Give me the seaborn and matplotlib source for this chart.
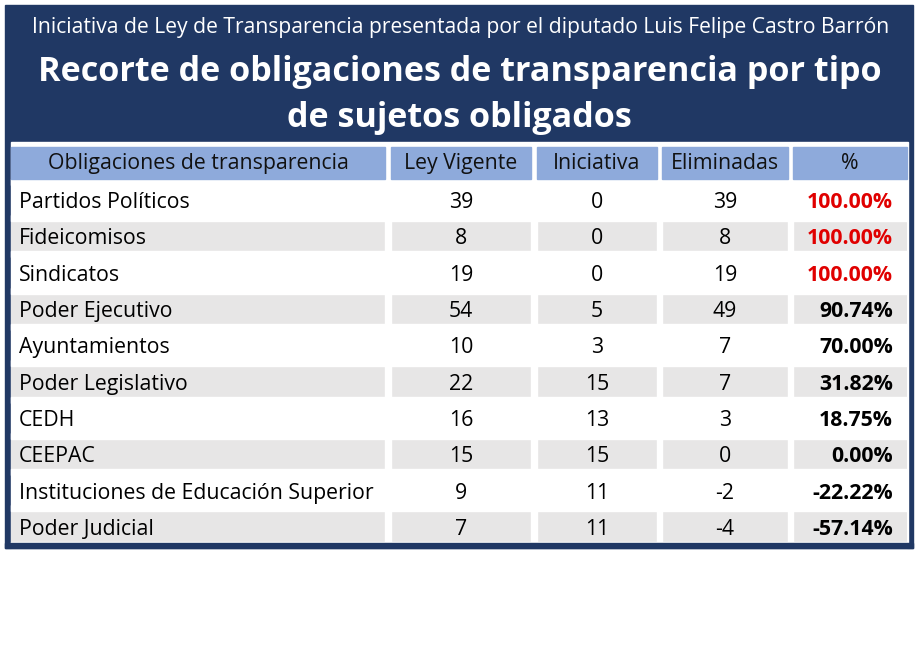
import numpy as np
import seaborn as sns
import matplotlib.pyplot as plt
from matplotlib.colors import ListedColormap
from matplotlib.patches import Rectangle

sns.set_theme(style="white")
plt.rcParams['font.family'] = ['Open Sans', 'DejaVu Sans']

# table data
subtitle = "Iniciativa de Ley de Transparencia presentada por el diputado Luis Felipe Castro Barrón"
title_lines = ["Recorte de obligaciones de transparencia por tipo", "de sujetos obligados"]
headers = ["Obligaciones de transparencia", "Ley Vigente", "Iniciativa", "Eliminadas", "%"]
sujetos = ["Partidos Políticos", "Fideicomisos", "Sindicatos", "Poder Ejecutivo", "Ayuntamientos",
           "Poder Legislativo", "CEDH", "CEEPAC", "Instituciones de Educación Superior", "Poder Judicial"]
ley_vigente = [39, 8, 19, 54, 10, 22, 16, 15, 9, 7]
iniciativa = [0, 0, 0, 5, 3, 15, 13, 15, 11, 11]
eliminadas = [39, 8, 19, 49, 7, 7, 3, 0, -2, -4]
porcentaje = [100.00, 100.00, 100.00, 90.74, 70.00, 31.82, 18.75, 0.00, -22.22, -57.14]

navy = "#203864"
head_blue = "#8eaadb"
gray = "#e7e6e6"
red = "#e00000"

W, H = 919, 659
fig = plt.figure(figsize=(W / 100, H / 100), dpi=100)

# background frame (pixel coordinates)
bg = fig.add_axes([0, 0, 1, 1], zorder=0)
bg.set_xlim(0, W)
bg.set_ylim(H, 0)
bg.axis("off")
bg.add_patch(Rectangle((5, 5), 908, 543, color=navy))
bg.add_patch(Rectangle((11, 142), 897, 401, color="white"))

# column edges and row layout
cols = [(11, 385), (391, 531), (537, 657), (662, 788), (793, 907)]
head_top, head_bot = 147, 179
body_top, row_h = 181.7, 36.3
n = len(sujetos)
body_bot = body_top + n * row_h

# striped rows via heatmap
hm = fig.add_axes([11 / W, 1 - body_bot / H, (907 - 11) / W, n * row_h / H], zorder=1)
stripes = np.array([[i % 2] for i in range(n)])
sns.heatmap(stripes, cmap=ListedColormap(["white", gray]), cbar=False,
            xticklabels=False, yticklabels=False, ax=hm)
hm.axis("off")

top = fig.add_axes([0, 0, 1, 1], zorder=2)
top.patch.set_alpha(0)
top.set_xlim(0, W)
top.set_ylim(H, 0)
top.axis("off")

# white gaps between columns and rows
for (a, b), (c, d) in zip(cols[:-1], cols[1:]):
    top.add_patch(Rectangle((b, head_top), c - b, body_bot - head_top, color="white"))
for k in range(n + 1):
    top.add_patch(Rectangle((11, body_top + k * row_h - 3), 896, 6, color="white"))
# bottom edge of the frame over the last gap
top.add_patch(Rectangle((5, 543), 908, 5, color=navy))

# header cells
for (a, b), h in zip(cols, headers):
    top.add_patch(Rectangle((a, head_top), b - a, head_bot - head_top, color=head_blue))
    top.text((a + b) / 2, 169, h, ha="center", va="baseline", fontsize=15.3, color="#111111")

# titles
top.text(W / 2 + 1, 33, subtitle, ha="center", va="baseline", fontsize=15.2, color="white")
for y, line in zip([81, 127], title_lines):
    top.text(W / 2, y, line, ha="center", va="baseline", fontsize=24.6, fontweight="bold",
             color="white")

# body text
for i in range(n):
    y = body_top + row_h * i + 26.5
    top.text(19, y, sujetos[i], ha="left", va="baseline", fontsize=15.3, color="black")
    for (a, b), v in zip(cols[1:4], [ley_vigente[i], iniciativa[i], eliminadas[i]]):
        top.text((a + b) / 2, y, str(v), ha="center", va="baseline", fontsize=15.3, color="black")
    color = red if porcentaje[i] >= 100 else "black"
    top.text(893, y, f"{porcentaje[i]:.2f}%", ha="right", va="baseline", fontsize=15.3,
             fontweight="bold", color=color)

fig.savefig("out.png", dpi=100, facecolor="white")
